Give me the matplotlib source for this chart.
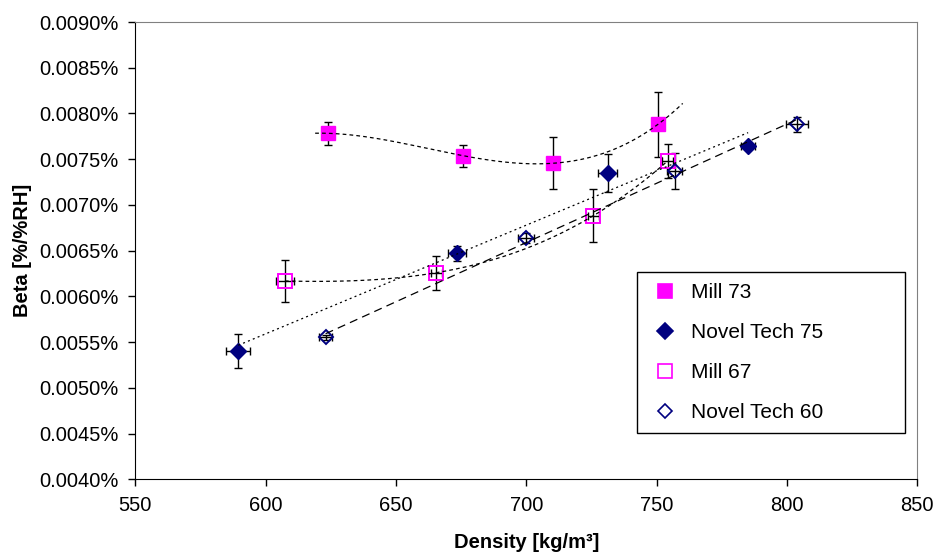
import numpy as np
import matplotlib
matplotlib.use("Agg")
import matplotlib.pyplot as plt
from matplotlib.lines import Line2D
from matplotlib.ticker import FuncFormatter, MultipleLocator

# Data (beta in %/%RH, density in kg/m3)
mill73_x = [623.8, 675.8, 710.1, 750.5]
mill73_y = [0.007783, 0.007538, 0.007455, 0.007881]
mill73_xerr = [1.3, 1.3, 1.5, 1.5]
mill73_yerr = [0.000129, 0.000122, 0.000284, 0.000354]

nt75_x = [589.5, 673.3, 731.2, 785.1]
nt75_y = [0.005406, 0.006471, 0.007346, 0.007644]
nt75_xerr = [4.6, 3.5, 3.6, 2.6]
nt75_yerr = [0.000188, 0.000080, 0.000208, 0.000020]

mill67_x = [607.4, 665.5, 725.7, 754.2]
mill67_y = [0.006168, 0.006259, 0.006882, 0.007480]
mill67_xerr = [3.5, 2.2, 2.2, 2.2]
mill67_yerr = [0.000228, 0.000186, 0.000290, 0.000182]

nt60_x = [623.0, 699.9, 757.0, 803.8]
nt60_y = [0.005553, 0.006635, 0.007371, 0.007881]
nt60_xerr = [2.6, 3.2, 2.9, 4.2]
nt60_yerr = [0.000030, 0.000055, 0.000195, 0.000084]

labels = ["Mill 73", "Novel Tech 75", "Mill 67", "Novel Tech 60"]

MAGENTA = "#FF00FF"
NAVY = "#000080"

plt.rcParams["font.family"] = ["Liberation Sans", "DejaVu Sans"]

fig = plt.figure(figsize=(9.38, 5.56), dpi=100)
ax = fig.add_axes([135.3 / 938, 1 - 479.3 / 556, 782 / 938, 457.3 / 556])

# x, y, xerr, yerr, marker, face, edge, size, trend order, trend range, trend style
series = [
    (mill73_x, mill73_y, mill73_xerr, mill73_yerr, "s", MAGENTA, MAGENTA, 10.5, 3, (619, 760), (0, (3, 2.5))),
    (nt75_x, nt75_y, nt75_xerr, nt75_yerr, "D", NAVY, NAVY, 8.3, 1, None, (0, (1.6, 2.6))),
    (mill67_x, mill67_y, mill67_xerr, mill67_yerr, "s", "none", MAGENTA, 10, 3, None, (0, (3, 2.5))),
    (nt60_x, nt60_y, nt60_xerr, nt60_yerr, "D", "none", NAVY, 7.6, 1, None, (0, (6.5, 4.2))),
]

handles = []
for x, y, xe, ye, mk, fc, ec, ms, order, rng, ls in series:
    ax.errorbar(x, y, xerr=xe, yerr=ye, fmt="none", ecolor="black",
                elinewidth=1.0, capsize=3.0, capthick=1.0, zorder=2)
    ax.plot(x, y, linestyle="none", marker=mk, markersize=ms,
            markerfacecolor=fc, markeredgecolor=ec,
            markeredgewidth=1.4 if fc == "none" else 1.0, zorder=3)
    # Excel-style trendline
    coef = np.polyfit(x, y, order)
    lo, hi = rng if rng else (min(x), max(x))
    xs = np.linspace(lo, hi, 200)
    ax.plot(xs, np.polyval(coef, xs), color="black", linewidth=0.9,
            linestyle=ls, zorder=4)
    handles.append(Line2D([], [], linestyle="none", marker=mk,
                          markersize=ms, markerfacecolor=fc,
                          markeredgecolor=ec, markeredgewidth=1.2))

ax.set_xlim(550, 850)
ax.set_ylim(0.0040, 0.0090)
ax.xaxis.set_major_locator(MultipleLocator(50))
ax.yaxis.set_major_locator(MultipleLocator(0.0005))
ax.yaxis.set_major_formatter(FuncFormatter(lambda v, p: f"{v:.4f}%"))
ax.tick_params(direction="out", length=5, width=1, labelsize=14.5, pad=7)

for side in ["top", "right"]:
    ax.spines[side].set_color("#808080")
for side in ["left", "bottom"]:
    ax.spines[side].set_color("black")

ax.set_xlabel("Density [kg/m³]", fontsize=14.5, fontweight="bold", va="center")
ax.xaxis.set_label_coords(0.5, (479.3 - 543) / 457.3)
ax.set_ylabel("Beta [%/%RH]", fontsize=14.5, fontweight="bold", va="center")
ax.yaxis.set_label_coords((22.5 - 135.3) / 782, 0.5)

leg = ax.legend(handles, labels, loc="upper left", mode="expand",
                bbox_to_anchor=(637 / 938, 1 - 434 / 556, (905 - 637) / 938, 162 / 556),
                bbox_transform=fig.transFigure, fontsize=15, frameon=True,
                fancybox=False, edgecolor="black", framealpha=1,
                handlelength=1.6, handletextpad=0.45, labelspacing=1.0,
                borderpad=0.55, borderaxespad=0)
leg.get_frame().set_linewidth(1.0)

fig.savefig("out.png", dpi=100)
